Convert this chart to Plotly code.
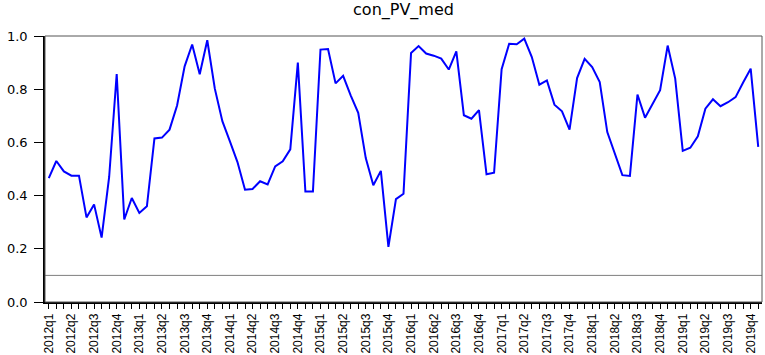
import plotly.graph_objects as go

title_text = "con_PV_med"

values = [
    0.466, 0.530, 0.491, 0.475, 0.475, 0.318, 0.367, 0.242, 0.470, 0.857, 0.310, 0.391, 0.335, 0.360, 0.615, 0.618,
    0.648, 0.739, 0.886, 0.968, 0.856, 0.984, 0.802, 0.680, 0.604, 0.526, 0.422, 0.425, 0.454, 0.442, 0.510, 0.529,
    0.574, 0.900, 0.415, 0.415, 0.949, 0.951, 0.822, 0.850, 0.777, 0.711, 0.541, 0.439, 0.493, 0.207, 0.387, 0.407,
    0.936, 0.962, 0.934, 0.926, 0.915, 0.874, 0.942, 0.702, 0.689, 0.721, 0.480, 0.486, 0.875, 0.971, 0.969,
    0.990, 0.921, 0.817, 0.833, 0.742, 0.717, 0.648, 0.842, 0.914, 0.883, 0.827, 0.639, 0.555, 0.477, 0.474,
    0.780, 0.693, 0.743, 0.796, 0.964, 0.840, 0.568, 0.580, 0.623, 0.727, 0.762, 0.736, 0.751, 0.770, 0.825, 0.877, 0.583,
]

years = list(range(2012, 2020))
quarter_labels = [f"{y}q{q}" for y in years for q in range(1, 5)]
obs_per_label = 3
ref_level = 0.1
y_ticks = [0.0, 0.2, 0.4, 0.6, 0.8, 1.0]

x = list(range(len(values)))
tickvals = [i * obs_per_label for i in range(len(quarter_labels))]

fig = go.Figure()
fig.add_trace(go.Scatter(
    x=x, y=values, mode="lines",
    line=dict(color="#0000FF", width=2),
    showlegend=False, hoverinfo="skip",
))

fig.add_shape(type="line", xref="paper", yref="y", x0=0, x1=1, y0=ref_level, y1=ref_level,
              line=dict(color="#7f7f7f", width=1), layer="below")
fig.add_shape(type="rect", xref="paper", yref="paper", x0=0, x1=1, y0=0, y1=1,
              line=dict(color="#555555", width=1), layer="above")

fig.update_layout(
    width=765, height=355,
    margin=dict(l=45, r=3, t=36, b=53, autoexpand=False),
    paper_bgcolor="white", plot_bgcolor="white",
    title=dict(text=title_text, x=0.5, xref="paper", xanchor="center",
               y=1 - 9 / 355, yref="container", yanchor="middle",
               font=dict(family="DejaVu Sans", size=16, color="black")),
)

fig.update_xaxes(
    range=[-0.5, len(values) - 0.5],
    automargin=False,
    tickmode="array", tickvals=tickvals, ticktext=quarter_labels,
    tickangle=-90,
    ticks="outside", ticklen=5, tickcolor="black", tickwidth=1,
    minor=dict(ticks="outside", dtick=1, tick0=0, ticklen=5, tickcolor="black", tickwidth=1),
    showline=True, linecolor="black", linewidth=1.5,
    showgrid=False, zeroline=False,
    tickfont=dict(family="Liberation Sans", size=12, color="black"),
)
fig.update_yaxes(
    range=[0, 1],
    automargin=False,
    tickmode="array", tickvals=y_ticks, ticktext=[f"{v:.1f}" for v in y_ticks],
    ticks="outside", ticklen=9, tickcolor="black", tickwidth=1,
    showline=True, linecolor="black", linewidth=1.5,
    showgrid=False, zeroline=False,
    ticklabelstandoff=4,
    tickfont=dict(family="DejaVu Sans", size=13, color="black"),
)

fig.write_html("out.html", config={"displayModeBar": False},
               post_script="document.body.style.margin='0';document.body.style.overflow='hidden';")
